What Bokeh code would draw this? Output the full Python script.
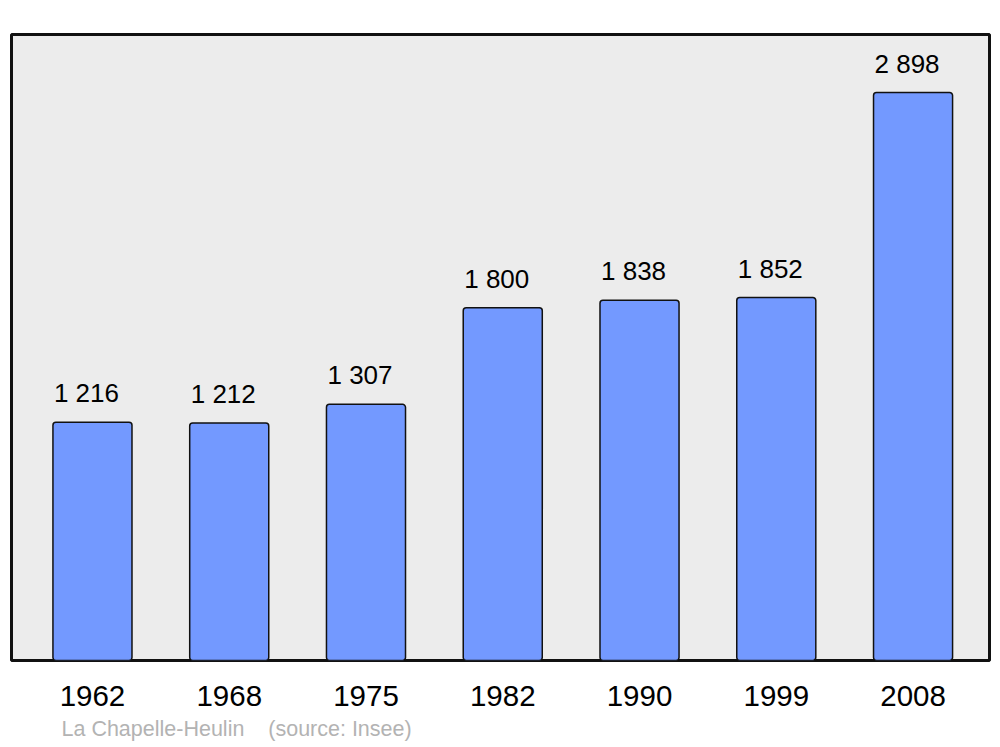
from bokeh.plotting import figure
from bokeh.models import ColumnDataSource, FixedTicker, Range1d, Title
from bokeh.embed import file_html
from bokeh.resources import INLINE

years = ["1962", "1968", "1975", "1982", "1990", "1999", "2008"]
population = [1216, 1212, 1307, 1800, 1838, 1852, 2898]
labels = ["1 216", "1 212", "1 307", "1 800", "1 838", "1 852", "2 898"]

idx = list(range(len(years)))
src = ColumnDataSource(dict(x=idx, y=population, lab=labels))

p = figure(width=1000, height=747, output_backend="svg", toolbar_location=None,
           x_range=Range1d(-0.592, 6.559), y_range=Range1d(0, 3194),
           min_border_left=11, min_border_right=11, min_border_top=34, min_border_bottom=87,
           y_axis_location=None)
p.background_fill_color = "#ececec"
p.border_fill_color = "white"
p.outline_line_color = "#111111"
p.outline_line_width = 3
p.xgrid.visible = False
p.ygrid.visible = False

p.vbar(x="x", top="y", bottom=0, width=0.578, source=src,
       fill_color="#7399ff", line_color="#111111", line_width=1.5, border_radius=3)
p.text(x="x", y="y", text="lab", source=src, text_align="center", text_baseline="alphabetic",
       x_offset=-6, y_offset=-29, text_font_size="26px", text_color="#000000",
       text_font={"value": "Liberation Sans"})

ax = p.xaxis[0]
ax.ticker = FixedTicker(ticks=idx)
ax.major_label_overrides = {i: y for i, y in zip(idx, years)}
ax.axis_line_color = None
ax.major_tick_line_color = None
ax.minor_tick_line_color = None
ax.major_tick_out = 0
ax.major_tick_in = 0
ax.major_label_standoff = 25
ax.major_label_text_font_size = "29.5px"
ax.major_label_text_font = "Liberation Sans"
ax.major_label_text_color = "#000000"

p.add_layout(Title(text="La Chapelle-Heulin\u00a0\u00a0\u00a0\u00a0(source: Insee)", align="left",
                   offset=50, text_color="#b3b3b3", text_font_size="21.5px",
                   text_font_style="normal", text_font="Liberation Sans", standoff=13), "below")

open("out.html", "w").write(file_html(p, INLINE))
